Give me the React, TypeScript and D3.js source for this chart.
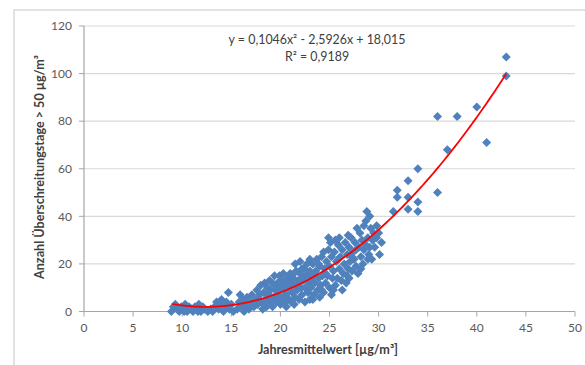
import React from "react";
import * as d3 from "d3";

const xTicks = [0, 5, 10, 15, 20, 25, 30, 35, 40, 45, 50];
const yTicks = [0, 20, 40, 60, 80, 100, 120];

// [Jahresmittelwert, Anzahl Überschreitungstage]
const points: [number, number][] = [
  [8.9,0],[9.1,2],[9.3,3],[9.5,1],[9.7,0],[9.9,2],[10.1,1],[10.3,3],[10.5,0],[10.7,2],[10.9,1],[11.1,0],[11.3,2],[11.5,1],[11.7,3],[11.9,0],[12.1,2],[12.3,1],[12.6,0],[12.9,1],[10.2,0],[11.6,0],
  [13.1,0],[13.3,2],[13.5,4],[13.7,1],[13.9,3],[14.0,5],[14.2,0],[14.4,2],[14.5,4],[14.7,8],[14.8,1],[15.0,3],[15.2,0],
  [15.6,1],[15.8,4],[15.9,7],[16.0,2],[16.2,5],[16.3,0],[16.5,3],[16.6,6],[16.8,1],[17.0,4],[17.1,7],[17.3,2],
  [17.5,5],[17.6,9],[17.7,3],[17.9,7],[18.0,11],[18.1,4],[18.2,1],[18.3,8],[18.4,12],[18.5,5],[18.6,2],[18.7,10],[18.8,7],[18.9,13],[19.0,4],[19.0,9],
  [19.2,2],[19.2,12],[19.3,6],[19.4,15],[19.5,9],[19.6,4],[19.7,12],[19.8,7],[19.9,15],[20.0,3],[20.0,10],[20.1,13],[20.2,6],[20.3,16],[20.4,9],[20.5,4],[20.5,12],[20.6,7],[20.7,14],[20.8,10],[20.9,5],[21.0,16],[21.0,12],
  [21.1,4],[21.2,8],[21.3,14],[21.4,11],[21.5,20],[21.5,6],[21.6,17],[21.7,9],[21.8,13],[21.9,5],[22.0,21],[22.0,16],[22.1,10],[22.2,7],[22.3,13],[22.4,18],[22.5,4],[22.5,10],[22.6,15],[22.7,20],[22.8,8],[22.9,12],[23.0,17],[23.0,5],
  [23.1,10],[23.2,14],[23.3,20],[23.4,7],[23.5,12],[23.6,17],[23.7,22],[23.8,9],[23.9,14],[24.0,6],[24.0,19],[24.1,11],[24.2,23],[24.3,15],[24.4,8],[24.5,18],[24.6,12],[24.7,21],[24.8,15],[24.9,31],[24.9,26],[25.0,10],[25.0,19],[25.1,29],[25.2,7],[25.2,23],[25.3,14],
  [25.4,17],[25.5,25],[25.6,11],[25.7,21],[25.8,14],[25.9,28],[26.0,31],[26.0,18],[26.1,23],[26.2,13],[26.3,26],[26.4,16],[26.5,20],[26.6,29],[26.7,12],[26.8,24],[26.9,18],[27.0,27],[27.0,14],[27.1,21],
  [27.2,31],[27.3,17],[27.4,25],[27.5,22],[27.6,29],[27.7,19],[27.8,35],[27.9,16],[28.0,27],[28.1,33],[28.2,23],[28.3,30],[28.4,20],[28.5,36],[28.5,26],
  [28.7,38],[28.8,42],[28.9,31],[29.0,24],[29.1,40],[29.1,27],[29.2,35],[29.3,22],[29.4,30],[29.6,27],[29.8,36],[29.8,31],[30.0,33],[30.1,24],[30.3,29],
  [17.8,5],[18.3,3],[18.9,6],[19.4,11],[19.9,5],[20.3,11],[20.6,2],[21.2,15],[21.4,3],[21.8,11],[22.2,14],[22.8,16],[23.3,5],[23.5,16],[23.9,20],[24.2,9],[24.6,16],[25.4,9],[25.9,22],[26.3,9],[26.8,15],[27.3,23],[27.7,26],[28.2,18],[28.7,28],[28.9,22],[29.5,33],[25.6,30],[26.9,32],[24.4,25],[23.0,22],[22.2,18],
  [31.5,42],[31.9,51],[31.9,48],[33.0,55],[33.0,48],[33.0,43],[34.0,60],[34.0,46],[34.0,42],[36.0,50],[37.0,68],[36.0,82],[38.0,82],[40.0,86],[41.0,71],[43.0,107],[43.0,99],
];

// Polynomial trend line (2nd order) as stated in the chart
const trendCoef = [0.1046, -2.5926, 18.015];
const trendRange = [9, 43];
const equationText = "y = 0,1046x² - 2,5926x + 18,015";
const r2Text = "R² = 0,9189";
const xTitle = "Jahresmittelwert [µg/m³]";
const yTitle = "Anzahl Überschreitungstage > 50 µg/m³";

const W = 585, H = 365;
const plot = { left: 84, right: 575, top: 26, bottom: 311.5 };
const FONT = "Lato, 'Open Sans', sans-serif";

export default function App() {
  const x = d3.scaleLinear().domain([0, 50]).range([plot.left, plot.right]);
  const y = d3.scaleLinear().domain([0, 120]).range([plot.bottom, plot.top]);

  const trendPts = d3.range(trendRange[0], trendRange[1] + 0.001, 0.25).map((v) => [
    v,
    trendCoef[0] * v * v + trendCoef[1] * v + trendCoef[2],
  ]);
  const trendPath = d3
    .line<number[]>()
    .x((d) => x(d[0]))
    .y((d) => y(d[1]))
    .curve(d3.curveMonotoneX)(trendPts);

  const diamond = d3.symbol().type(d3.symbolDiamond2).size(52)();

  return (
    <div style={{ position: "absolute", left: 0, top: 0 }}>
      <svg width={W} height={H} style={{ display: "block", background: "#fff" }}>
        <rect x={14} y={10} width={600} height={400} fill="#fff" stroke="#d9d9d9" strokeWidth={1.5} />
        {yTicks.slice(1).map((t) => (
          <line key={"g" + t} x1={plot.left} x2={plot.right} y1={y(t)} y2={y(t)} stroke="#d9d9d9" strokeWidth={1.2} />
        ))}
        {/* axes */}
        <line x1={plot.left} x2={plot.left} y1={plot.top} y2={plot.bottom} stroke="#a6a6a6" strokeWidth={1.2} />
        <line x1={plot.left} x2={plot.right} y1={plot.bottom} y2={plot.bottom} stroke="#a6a6a6" strokeWidth={1.2} />
        {yTicks.map((t) => (
          <g key={"yt" + t}>
            <line x1={plot.left - 5} x2={plot.left} y1={y(t)} y2={y(t)} stroke="#a6a6a6" />
            <text x={72} y={y(t)} dy="0.35em" textAnchor="end" fontFamily={FONT} fontSize={12} fill="#595959">
              {t}
            </text>
          </g>
        ))}
        {xTicks.map((t) => (
          <g key={"xt" + t}>
            <line x1={x(t)} x2={x(t)} y1={plot.bottom} y2={plot.bottom + 5} stroke="#a6a6a6" />
            <text x={x(t)} y={328} dy="0.35em" textAnchor="middle" fontFamily={FONT} fontSize={12} fill="#595959">
              {t}
            </text>
          </g>
        ))}
        {/* points */}
        {points.map((p, i) => (
          <path key={i} d={diamond as string} transform={`translate(${x(p[0])},${y(p[1])})`} fill="#4f81bd" />
        ))}
        {/* trend line */}
        <path d={trendPath as string} fill="none" stroke="#ff0000" strokeWidth={1.8} />
        {/* equation */}
        <text x={317} y={40} dy="0.35em" textAnchor="middle" fontFamily={FONT} fontSize={12.4} fill="#404040">
          {equationText}
        </text>
        <text x={317} y={57} dy="0.35em" textAnchor="middle" fontFamily={FONT} fontSize={12.4} fill="#404040">
          {r2Text}
        </text>
        {/* axis titles */}
        <text x={328} y={350} dy="0.35em" textAnchor="middle" fontFamily={FONT} fontWeight="bold" fontSize={12.6} fill="#404040">
          {xTitle}
        </text>
        <text transform={`translate(40,167) rotate(-90)`} dy="0.35em" textAnchor="middle" fontFamily={FONT} fontWeight="bold" fontSize={12.6} fill="#404040">
          {yTitle}
        </text>
      </svg>
    </div>
  );
}
